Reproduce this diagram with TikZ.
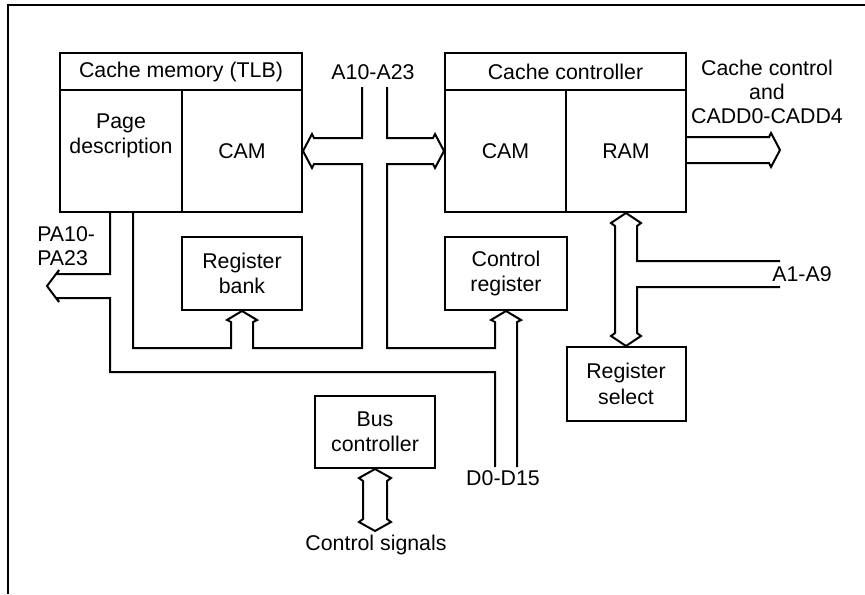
\documentclass[tikz,border=0pt]{standalone}
\usepackage{fontspec}
\setmainfont{Liberation Sans}
\usepackage{tikz}
\usetikzlibrary{calc}

\tikzset{
	cell/.style={draw, line width=1.5pt, inner sep=0.75pt, align=center, font=\fontsize{16}{19}\selectfont},
	lbl/.style={inner sep=0.75pt, align=center, font=\fontsize{16}{18}\selectfont},
	busline/.style={line width=1.5pt, line join=miter},
}

\begin{document}
\begin{tikzpicture}[x=0.75pt,y=0.75pt,yscale=-1,xscale=1]
			\useasboundingbox (0,0) rectangle (865,594);
			
			%Frame
			\draw [line width=1.5pt] (865,5) -- (8,5) -- (8,594) ;
			
			%Shape: Cache memory (TLB)
			\node [cell, minimum width=181.5pt, minimum height=27.75pt] (tlbtitle) at (181,71.5) {Cache memory (TLB)};
			\node [cell, minimum width=91.5pt, minimum height=91.5pt] (pagedesc) at (121,151) {};
			\node [cell, minimum width=90pt, minimum height=91.5pt] (tlbcam) at (242,151) {CAM};
			% Text Node
			\node [lbl, font=\fontsize{16}{19}\selectfont] (pagetext) at (121,136) {Page\\description};
			
			%Shape: Cache controller
			\node [cell, minimum width=180.75pt, minimum height=27.75pt] (cctitle) at (565.5,71.5) {Cache controller};
			\node [cell, minimum width=90.75pt, minimum height=91.5pt] (cccam) at (505.5,151) {CAM};
			\node [cell, minimum width=90pt, minimum height=91.5pt] (ccram) at (626,151) {RAM};
			
			%Shape: Rectangles
			\node [cell, minimum width=90pt, minimum height=54.75pt] (regbank) at (242,273.5) {Register\\bank};
			\node [cell, minimum width=91.5pt, minimum height=54.75pt] (ctrlreg) at (506,273.5) {Control\\register};
			\node [cell, minimum width=89.25pt, minimum height=55.5pt] (regsel) at (626,384) {Register\\select};
			\node [cell, minimum width=90pt, minimum height=54pt] (busctl) at (375,432) {Bus\\controller};
			
			% Text Node
			\node [lbl] (abus) at (373,72) {A10-A23};
			% Text Node
			\node [lbl, align=left, anchor=west] (pabus) at (36,246) {PA10-\\PA23};
			% Text Node
			\node [lbl] (ccctl) at (767,92) {Cache control\\and\\CADD0-CADD4};
			% Text Node
			\node [lbl] (a1bus) at (802,274) {A1-A9};
			% Text Node
			\node [lbl] (dbus) at (503,478) {D0-D15};
			% Text Node
			\node [lbl] (ctlsig) at (376,545) {Control signals};
			
			%Bus ends
			\coordinate (atopl) at (362,87);
			\coordinate (atopr) at (387,87);
			\coordinate (dbotl) at (495,467);
			\coordinate (dbotr) at (517,467);
			\coordinate (a1up) at (780,261);
			\coordinate (a1lo) at (780,287);
			\coordinate (patip) at (47,286);
			\coordinate (outtip) at (780,150);
			\coordinate (ctltip) at (375,531);
			
			%Bus: A10-A23 to TLB CAM and register bank
			\draw [busline] (atopl) -- (362,138) -- ($(tlbcam.east)+(11,-13)$) -- ++(-2,-4) -- (tlbcam.east) -- ++(9,17) -- ++(2,-4) -- (362,164) -- (362,348) -- (253,348) -- ($(regbank.south)+(11,11)$) -- ++(4,-2) -- (regbank.south) -- ++(-15,9) -- ++(4,2) -- (231,348) -- (133,348) -- ($(pagedesc.south)+(12,0)$) ;
			%Bus: A10-A23 to controller CAM and control register
			\draw [busline] (atopr) -- (387,138) -- ($(cccam.west)+(-11,-13)$) -- ++(2,-4) -- (cccam.west) -- ++(-9,17) -- ++(-2,-4) -- (387,164) -- (387,348) -- (495,348) -- ($(ctrlreg.south)+(-11,11)$) -- ++(-4,-2) -- (ctrlreg.south) -- ++(15,9) -- ++(-4,2) -- (dbotr) ;
			%Bus: PA10-PA23
			\draw [busline] ($(pagedesc.south)+(-11,0)$) -- (110,274) -- (57,274) -- ++(2,-4) -- (patip) -- ++(12,16) -- ++(-2,-4) -- (110,298) -- (110,372) -- (495,372) -- (dbotl) ;
			%Bus: cache control out
			\draw [busline] ($(ccram.east)+(0,-14)$) -- (769,137) -- ++(2,-4) -- (outtip) -- ++(-9,17) -- ++(-2,-4) -- ($(ccram.east)+(0,12)$) ;
			%Bus: RAM, A1-A9, register select
			\draw [busline] (a1up) -- (637,261) -- ($(ccram.south)+(11,13)$) -- ++(4,-3) -- (ccram.south) -- ++(-15,10) -- ++(4,3) -- ($(regsel.north)+(-11,-13)$) -- ++(-4,3) -- (regsel.north) -- ++(15,-10) -- ++(-4,-3) -- (637,287) -- (a1lo) ;
			%Bus: control signals
			\draw [busline] ($(busctl.south)+(-12,12)$) -- ++(-4,-3) -- (busctl.south) -- ++(16,9) -- ++(-4,3) -- ($(ctltip)+(12,-12)$) -- ++(4,3) -- (ctltip) -- ++(-16,-9) -- ++(4,-3) -- cycle ;
			
\end{tikzpicture}
\end{document}
